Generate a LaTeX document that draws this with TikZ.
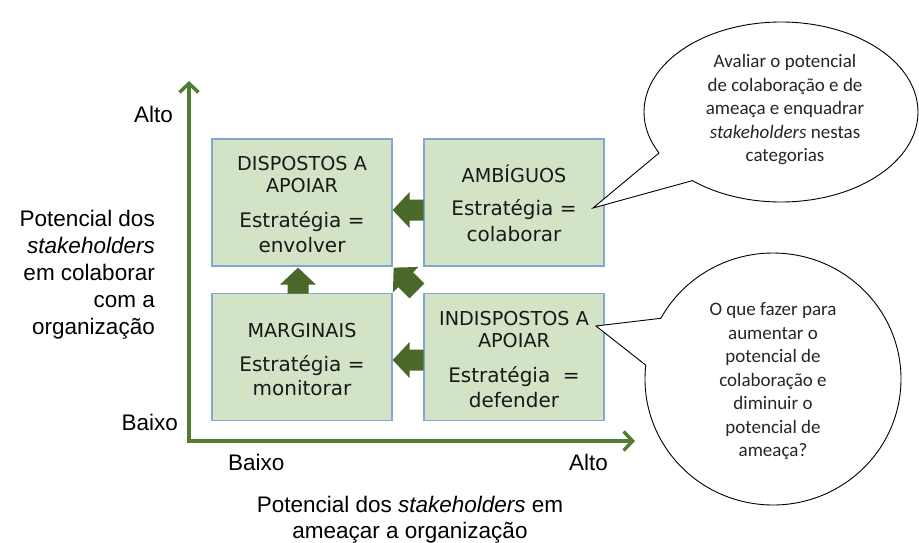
\documentclass[tikz,border=0pt]{standalone}
\usepackage{fontspec}
\newfontfamily\verd{DejaVu Sans}
\newfontfamily\arialf{Liberation Sans}
\newfontfamily\carl{Carlito}
\usetikzlibrary{arrows.meta,calc}
\definecolor{boxfill}{RGB}{211,227,198}
\definecolor{boxline}{RGB}{130,168,210}
\definecolor{arrgreen}{RGB}{74,104,42}
\definecolor{axisgreen}{RGB}{82,124,50}
\definecolor{txt}{RGB}{25,25,25}
\tikzset{
  quadbox/.style={draw=boxline, line width=1.3pt, fill=boxfill, minimum width=180pt, minimum height=127pt, inner sep=0pt},
  titletxt/.style={font=\verd\fontsize{19.2pt}{22pt}\selectfont, text=txt, inner sep=0pt, anchor=base},
  strattxt/.style={font=\verd\fontsize{20pt}{25pt}\selectfont, text=txt, inner sep=0pt, anchor=base},
  axlabel/.style={font=\arialf\fontsize{22.5pt}{27pt}\selectfont, text=black, inner sep=0pt},
  bubbleshape/.style={draw=black, line width=0.9pt, fill=white},
  bubbleshadow/.style={fill=black, opacity=0.13, shift={(1.8,1.8)}},
  bubbletxt/.style={font=\carl\fontsize{19pt}{23.5pt}\selectfont, text=black!85, align=center, inner sep=0pt},
  axisline/.style={draw=axisgreen, line width=3.5pt, {Straight Barb[length=9pt,width=19pt]}-{Straight Barb[length=9pt,width=19pt]}},
  pics/blockarr/.style={code={\fill[arrgreen] (0,0) -- (-17,-18) -- (-17,-10.5) -- (-#1,-10.5) -- (-#1,10.5) -- (-17,10.5) -- (-17,18) -- cycle;}}
}
\begin{document}
\begin{tikzpicture}[x=1pt,y=-1pt]
\useasboundingbox (0,0) rectangle (919,543);

% axes
\coordinate (vtop) at (189,81);
\coordinate (orig) at (189,441);
\coordinate (hend) at (635,441);
\draw[axisline] (vtop) -- (orig) -- (hend);

% axis labels
\node[axlabel, anchor=base east] (ytop) at (173,122) {Alto};
\node[axlabel, anchor=base east] (ybot) at (178,430) {Baixo};
\node[axlabel, anchor=base west] (xbot) at (228,470) {Baixo};
\node[axlabel, anchor=base east] (xtop) at (608,470) {Alto};
\node[axlabel, anchor=north east, align=right] (ytitle) at (155,210)
  {Potencial dos\\\textit{stakeholders}\\em colaborar\\com a\\organização};
\node[axlabel, font=\arialf\fontsize{22.5pt}{25.5pt}\selectfont, anchor=north, align=center] (xtitle) at (410,496)
  {Potencial dos \textit{stakeholders} em\\ameaçar a organização};

% boxes
\node[quadbox] (dl) at (302,202.5) {};
\node[quadbox] (am) at (514,202.5) {};
\node[quadbox] (mg) at (302,357) {};
\node[quadbox] (ind) at (514,357) {};

% box texts
\node[titletxt] (dlt1) at (302,170) {DISPOSTOS A};
\node[titletxt] (dlt2) at (302,192) {APOIAR};
\node[strattxt] (dls1) at (302,227) {Estratégia =};
\node[strattxt] (dls2) at (302,252) {envolver};

\node[titletxt] (amt1) at (514,182) {AMBÍGUOS};
\node[strattxt] (ams1) at (514,215) {Estratégia =};
\node[strattxt] (ams2) at (514,241) {colaborar};

\node[titletxt] (mgt1) at (302,337) {MARGINAIS};
\node[strattxt] (mgs1) at (302,371) {Estratégia =};
\node[strattxt] (mgs2) at (302,395) {monitorar};

\node[titletxt] (indt1) at (514,325) {INDISPOSTOS A};
\node[titletxt] (indt2) at (514,347) {APOIAR};
\node[strattxt] (inds1) at (514,382) {Estratégia\ \ =};
\node[strattxt] (inds2) at (514,407) {defender};

% block arrows between boxes
\pic[rotate=180] at ($(dl.east)+(0,7.5)$) {blockarr=31};
\pic[rotate=180] at ($(mg.east)+(0,3)$) {blockarr=31};
\pic[rotate=90] at ($(dl.south)+(-4,1)$) {blockarr=26};
\pic[rotate=135] at ($(dl.south east)+(1,1)$) {blockarr=33};

% callouts
\coordinate (c1c) at (781,112);
\coordinate (c2c) at (773,379);
\coordinate (tip1) at (593,208);
\coordinate (tip2) at (596,326);
\def\bubbleA{(c1c) ++(229.7:137pt and 90pt) arc[start angle=229.7, end angle=567.1, x radius=137pt, y radius=90pt] -- (tip1) -- cycle}
\def\bubbleB{(c2c) ++(173.7:128pt and 126pt) arc[start angle=173.7, end angle=511.2, x radius=128pt, y radius=126pt] -- (tip2) -- cycle}
\fill[bubbleshadow] \bubbleA;
\fill[bubbleshadow] \bubbleB;
\path[bubbleshape] \bubbleA;
\path[bubbleshape] \bubbleB;
\node[bubbletxt] (c1) at (785,110)
  {Avaliar o potencial\\de colaboração e de\\ameaça e enquadrar\\\textit{stakeholders} nestas\\categorias};
\node[bubbletxt] (c2) at (773,381.5)
  {O que fazer para\\aumentar o\\potencial de\\colaboração e\\diminuir o\\potencial de\\ameaça?};
\end{tikzpicture}
\end{document}
